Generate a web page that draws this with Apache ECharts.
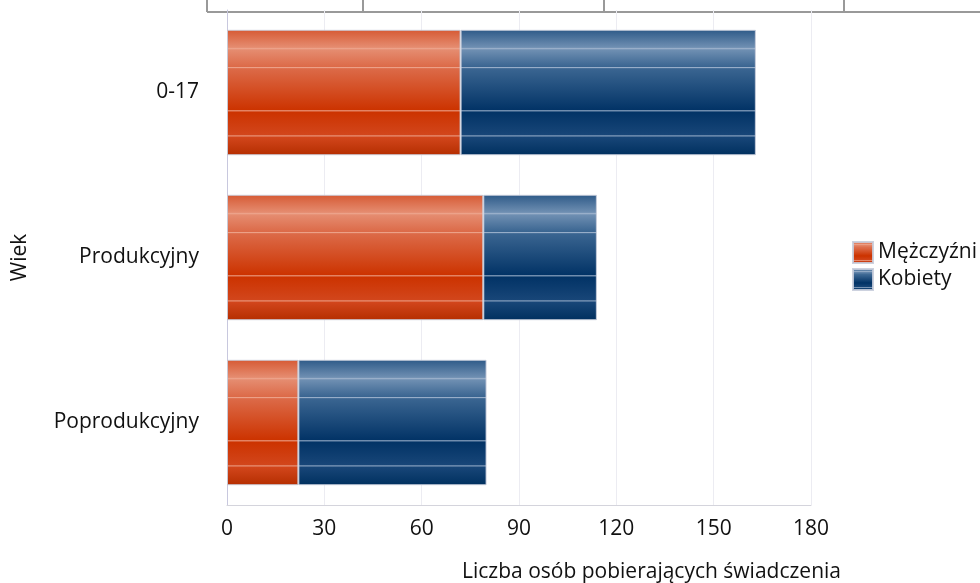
<!DOCTYPE html>
<html><head><meta charset="utf-8">
<script src="https://cdn.jsdelivr.net/npm/echarts@6/dist/echarts.min.js"></script>
<style>html,body{margin:0;padding:0;background:#fff}#c{width:980px;height:583px}</style>
</head><body><div id="c"></div>
<script>
const categories = ['0-17', 'Produkcyjny', 'Poprodukcyjny'];
const men = [72, 79, 22];
const women = [91, 35, 58];
const seriesNames = ['Mężczyźni', 'Kobiety'];
const xTicks = [0, 30, 60, 90, 120, 150, 180];

const FONT = 'Open Sans';
function glossy(c) {
  return {
    type: 'linear', x: 0, y: 0, x2: 0, y2: 1,
    colorStops: [
      {offset: 0, color: c[0]},
      {offset: 0.14, color: c[1]},
      {offset: 0.15, color: c[5]},
      {offset: 0.16, color: c[1]},
      {offset: 0.295, color: c[2]},
      {offset: 0.30, color: c[5]},
      {offset: 0.31, color: c[2]},
      {offset: 0.64, color: c[3]},
      {offset: 0.645, color: c[5]},
      {offset: 0.655, color: c[3]},
      {offset: 0.84, color: c[4]},
      {offset: 0.845, color: c[5]},
      {offset: 0.855, color: c[4]},
      {offset: 1, color: c[6]}
    ]
  };
}
const redG = glossy(['#d65a34', '#e58c70', '#dc6a48', '#cc3300', '#d2461c', '#eda48c', '#b52e00']);
const blueG = glossy(['#2e5a88', '#6f8fb2', '#3a6591', '#023366', '#184678', '#9db2cc', '#00305f']);

const chart = echarts.init(document.getElementById('c'));
chart.setOption({
  animation: false,
  textStyle: {fontFamily: FONT},
  grid: {left: 227, right: 169, top: 10, bottom: 78, containLabel: false},
  legend: {
    orient: 'vertical', left: 847, top: 236,
    itemWidth: 20, itemHeight: 21, itemGap: 4,
    icon: 'rect',
    textStyle: {fontSize: 21, color: '#111', fontFamily: FONT},
    data: seriesNames
  },
  xAxis: {
    type: 'value', min: xTicks[0], max: xTicks[xTicks.length - 1], interval: 30,
    axisLine: {show: true, lineStyle: {color: '#d4d4dc'}},
    axisTick: {show: false},
    splitLine: {show: true, lineStyle: {color: '#ececf2'}},
    axisLabel: {fontSize: 21, color: '#111', margin: 14, fontFamily: FONT}
  },
  yAxis: {
    type: 'category', data: categories, inverse: true,
    name: 'Wiek', nameLocation: 'middle', nameGap: 196, nameRotate: 90,
    nameTextStyle: {fontSize: 21, color: '#111', fontFamily: FONT},
    axisLine: {show: true, lineStyle: {color: '#c8c8de'}},
    axisTick: {show: false},
    axisLabel: {fontSize: 21, color: '#111', margin: 28, fontFamily: FONT, padding: [5, 0, 0, 0]}
  },
  series: [
    {name: seriesNames[0], type: 'bar', stack: 't', data: men, barWidth: '76%',
     itemStyle: {color: redG, borderColor: 'rgba(200,205,220,0.9)', borderWidth: 1}},
    {name: seriesNames[1], type: 'bar', stack: 't', data: women, barWidth: '76%',
     itemStyle: {color: blueG, borderColor: 'rgba(200,205,220,0.9)', borderWidth: 1}}
  ],
  graphic: [
    {type: 'line', shape: {x1: 207, y1: 12, x2: 980, y2: 12}, style: {stroke: '#999', lineWidth: 2}},
    {type: 'line', shape: {x1: 207, y1: 0, x2: 207, y2: 12}, style: {stroke: '#999', lineWidth: 2}},
    {type: 'line', shape: {x1: 363, y1: 0, x2: 363, y2: 12}, style: {stroke: '#999', lineWidth: 2}},
    {type: 'line', shape: {x1: 604, y1: 0, x2: 604, y2: 12}, style: {stroke: '#999', lineWidth: 2}},
    {type: 'line', shape: {x1: 844, y1: 0, x2: 844, y2: 12}, style: {stroke: '#999', lineWidth: 2}},
    {type: 'text', left: 462, top: 562, style: {text: 'Liczba osób pobierających świadczenia', fontSize: 21, fill: '#111', fontFamily: FONT}}
  ]
});
</script></body></html>
